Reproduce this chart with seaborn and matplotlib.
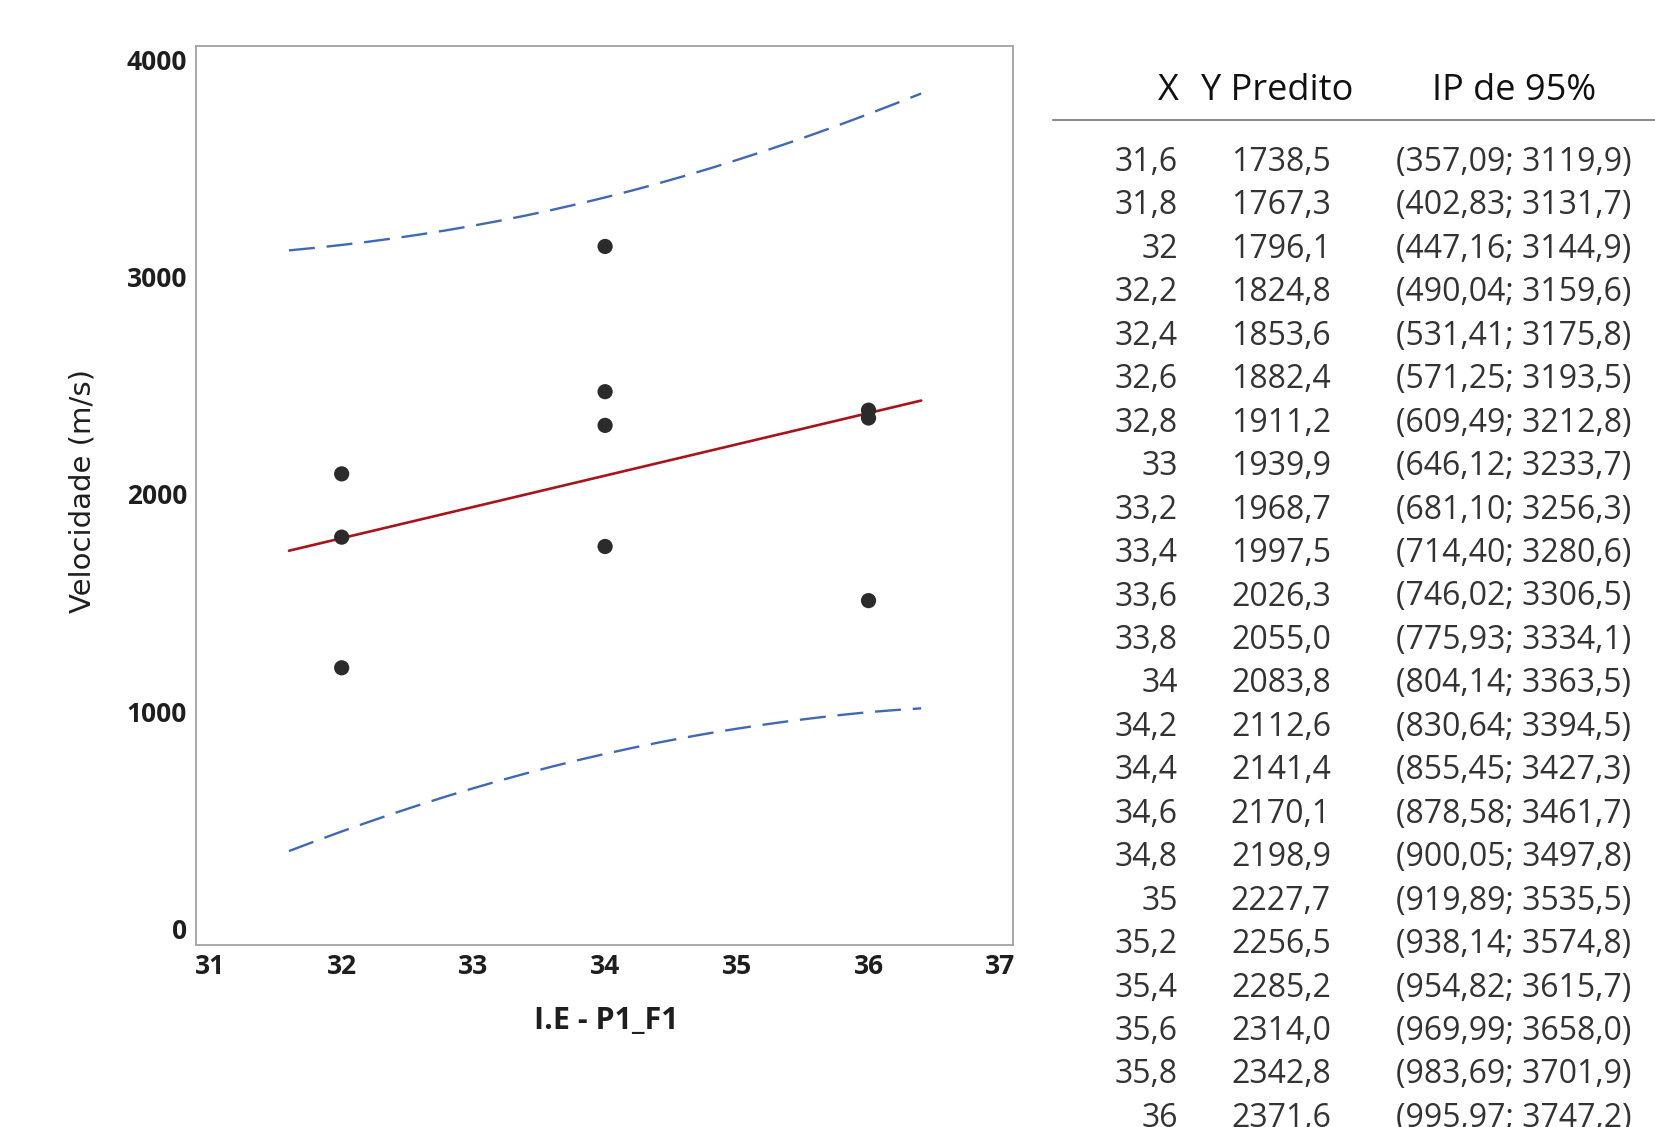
import numpy as np
import pandas as pd
import matplotlib
matplotlib.use("Agg")
import matplotlib.pyplot as plt
import seaborn as sns

# ---------------- data ----------------
# observed points
obs_x = [32, 32, 32, 34, 34, 34, 34, 36, 36, 36]
obs_y = [2092, 1801, 1200, 3138, 2470, 2315, 1758, 2385, 2349, 1509]

# prediction table (fit + 95% prediction interval)
tab_x = [31.6, 31.8, 32.0, 32.2, 32.4, 32.6, 32.8, 33.0, 33.2, 33.4, 33.6, 33.8,
         34.0, 34.2, 34.4, 34.6, 34.8, 35.0, 35.2, 35.4, 35.6, 35.8, 36.0, 36.2, 36.4]
tab_fit = [1738.5, 1767.3, 1796.1, 1824.8, 1853.6, 1882.4, 1911.2, 1939.9, 1968.7,
           1997.5, 2026.3, 2055.0, 2083.8, 2112.6, 2141.4, 2170.1, 2198.9, 2227.7,
           2256.5, 2285.2, 2314.0, 2342.8, 2371.6, 2400.4, 2429.2]
tab_lo = [357.09, 402.83, 447.16, 490.04, 531.41, 571.25, 609.49, 646.12, 681.10,
          714.40, 746.02, 775.93, 804.14, 830.64, 855.45, 878.58, 900.05, 919.89,
          938.14, 954.82, 969.99, 983.69, 995.97, 1005.5, 1013.5]
tab_hi = [3119.9, 3131.7, 3144.9, 3159.6, 3175.8, 3193.5, 3212.8, 3233.7, 3256.3,
          3280.6, 3306.5, 3334.1, 3363.5, 3394.5, 3427.3, 3461.7, 3497.8, 3535.5,
          3574.8, 3615.7, 3658.0, 3701.9, 3747.2, 3794.0, 3841.5]

x_ticks = [31, 32, 33, 34, 35, 36, 37]
y_ticks = [0, 1000, 2000, 3000, 4000]
x_label = "I.E - P1_F1"
y_label = "Velocidade (m/s)"
table_headers = ["X", "Y Predito", "IP de 95%"]

df_obs = pd.DataFrame({"x": obs_x, "y": obs_y})
df_fit = pd.DataFrame({"x": tab_x, "fit": tab_fit, "lo": tab_lo, "hi": tab_hi})

# ---------------- style ----------------
sns.set_style("white")
plt.rcParams["font.family"] = ["Open Sans", "DejaVu Sans"]

W, H = 1655, 1127
fig = plt.figure(figsize=(W / 100, H / 100), dpi=100)

L, R, T, B = 196, 1013, 46, 945
ax = fig.add_axes([L / W, 1 - B / H, (R - L) / W, (B - T) / H])

blue = "#3F68B8"
red = "#A8141C"
dash = (0, (11, 5))

sns.lineplot(data=df_fit, x="x", y="hi", ax=ax, color=blue, lw=1.7,
             linestyle=dash, sort=False)
sns.lineplot(data=df_fit, x="x", y="lo", ax=ax, color=blue, lw=1.7,
             linestyle=dash, sort=False)
sns.lineplot(data=df_fit, x="x", y="fit", ax=ax, color=red, lw=1.9, sort=False)
sns.scatterplot(data=df_obs, x="x", y="y", ax=ax, color="#2B2B2B", s=120,
                edgecolor="none", zorder=5)

ax.set_xlim(30.894, 37.097)
ax.set_ylim(-75, 4060)
ax.set_xticks(x_ticks)
ax.set_yticks(y_ticks)
ax.set_xticklabels([str(v) for v in x_ticks])
ax.set_yticklabels([str(v) for v in y_ticks])
ax.set_xlabel("")
ax.set_ylabel("")

for s in ax.spines.values():
    s.set_color("#A8A8A8")
    s.set_linewidth(1.4)

ax.tick_params(axis="both", direction="out", length=4, width=1.0,
               color="#A8A8A8", labelcolor="#1E1E1E", labelsize=19)
ax.tick_params(axis="x", pad=1.5)
ax.tick_params(axis="y", pad=2.5)
for lab in ax.get_xticklabels() + ax.get_yticklabels():
    lab.set_fontweight("bold")
    lab.set_family(["Open Sans", "DejaVu Sans"])

fig.text(83 / W, 1 - 491 / H, y_label, rotation=90, ha="center", va="center",
         fontsize=21, color="#1E1E1E", family=["DejaVu Sans"])
fig.text(606 / W, 1 - 1021 / H, x_label, ha="center", va="center",
         fontsize=22, fontweight="bold", color="#1E1E1E",
         family=["Liberation Sans Narrow", "Open Sans", "DejaVu Sans"])

# ---------------- table ----------------
def fx(v):
    s = ("%g" % v)
    return s.replace(".", ",")

def f1(v):
    return ("%.1f" % v).replace(".", ",")

def flo(v):
    return (("%.2f" % v) if v < 1000 else ("%.1f" % v)).replace(".", ",")

hdr_y = 1 - 91 / H
fig.text(1179 / W, hdr_y, table_headers[0], ha="right", va="center",
         fontsize=26, color="#111111")
fig.text(1201 / W, hdr_y, table_headers[1], ha="left", va="center",
         fontsize=26, color="#111111")
fig.text(1432 / W, hdr_y, table_headers[2], ha="left", va="center",
         fontsize=26, color="#111111")
fig.add_artist(matplotlib.lines.Line2D([1053 / W, 1.0], [1 - 120 / H, 1 - 120 / H],
                                       color="#8C8C8C", lw=1.5))

row0, pitch = 162.5, 43.45
for i, (xv, fv, lv, hv) in enumerate(zip(tab_x, tab_fit, tab_lo, tab_hi)):
    if xv > 36.0:
        continue
    yy = 1 - (row0 + i * pitch) / H
    fig.text(1178 / W, yy, fx(xv), ha="right", va="center", fontsize=23,
             color="#333333")
    fig.text(1331 / W, yy, f1(fv), ha="right", va="center", fontsize=23,
             color="#333333")
    fig.text(1396 / W, yy, "(%s; %s)" % (flo(lv), f1(hv)), ha="left",
             va="center", fontsize=23, color="#333333")

fig.savefig("out.png", dpi=100)
